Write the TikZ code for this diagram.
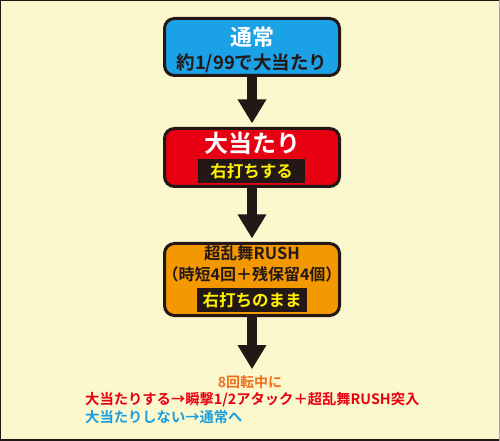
\documentclass[tikz,border=0pt]{standalone}
\usepackage{fontspec}
\setmainfont{Noto Sans CJK JP}[BoldFont={Noto Sans CJK JP Bold}]
\usetikzlibrary{arrows.meta}
\definecolor{bgyellow}{HTML}{FCF8CD}
\definecolor{inkdark}{HTML}{231815}
\definecolor{normalblue}{HTML}{1BA1E6}
\definecolor{hitred}{HTML}{E60012}
\definecolor{rushorange}{HTML}{F39800}
\definecolor{labelyellow}{HTML}{FFF100}
\definecolor{noteorange}{HTML}{F06E1E}
\definecolor{noteblue}{HTML}{1A9EE2}
\tikzstyle{stage}=[draw=inkdark, line width=3bp, rounded corners=10bp, minimum width=175bp, inner sep=0pt]
\tikzstyle{tag}=[fill=inkdark, text=labelyellow, inner sep=0pt, minimum height=24bp, font=\bfseries\fontsize{16.5bp}{18bp}\selectfont]
\tikzstyle{flow}=[draw=inkdark, line width=10bp, -{Triangle[width=27bp,length=24bp]}]

\begin{document}
\begin{tikzpicture}[x=1bp, y=-1bp]
    \fill[bgyellow] (0,0) rectangle (500,441);
    \useasboundingbox (0,0) rectangle (500,441);
    \draw[inkdark, line width=2.5bp] (0,439.75) -- (0,0) -- (500,0);
    \draw[inkdark, line width=2.5bp] (0,439.75) -- (500,439.75);
    \draw[black!35, line width=0.8bp] (499.6,0) -- (499.6,441);

    \node (normal) at (252, 47) [stage, fill=normalblue, minimum height=57bp] {};
    \node (hit) at (252, 157.5) [stage, fill=hitred, minimum height=58bp] {};
    \node (rush) at (252, 279.5) [stage, fill=rushorange, minimum height=72bp] {};

    \node (normaltitle) at (252, 37) [text=white, font=\bfseries\fontsize{22bp}{24bp}\selectfont] {通常};
    \node (normalodds) at (252, 63) [text=inkdark, font=\bfseries\fontsize{18.5bp}{20bp}\selectfont] {約1/99で大当たり};

    \node (hittitle) at (252, 143) [text=white, font=\bfseries\fontsize{24bp}{26bp}\selectfont] {大当たり};
    \node (hittag) at (251.5, 171) [tag, minimum width=107bp] {右打ちする};

    \node (rushtitle) at (252, 253) [text=inkdark, font=\bfseries\fontsize{16.5bp}{18bp}\selectfont] {超乱舞RUSH};
    \node (rushinfo) at (252, 274) [text=inkdark, font=\bfseries\fontsize{16bp}{18bp}\selectfont] {（時短4回＋残保留4個）};
    \node (rushtag) at (252, 300) [tag, minimum width=110bp] {右打ちのまま};

    \node (note) at (250, 382) [text=noteorange, inner sep=0pt, font=\bfseries\fontsize{14bp}{16bp}\selectfont] {8回転中に};
    \node (notewin) at (85, 400) [anchor=west, text=hitred, inner sep=0pt, font=\bfseries\fontsize{14.3bp}{16bp}\selectfont] {大当たりする→瞬撃1/2アタック＋超乱舞RUSH突入};
    \node (notelose) at (85, 417) [anchor=west, text=noteblue, inner sep=0pt, font=\bfseries\fontsize{14.3bp}{16bp}\selectfont] {大当たりしない→通常へ};

    \draw[flow, shorten >=3.5bp] (normal.south) -- (hit.north);
    \draw[flow, shorten >=3.5bp] (hit.south) -- (rush.north);
    \draw[flow, shorten >=6bp] (rush.south) -- (rush.south |- note.north);
\end{tikzpicture}
\end{document}
